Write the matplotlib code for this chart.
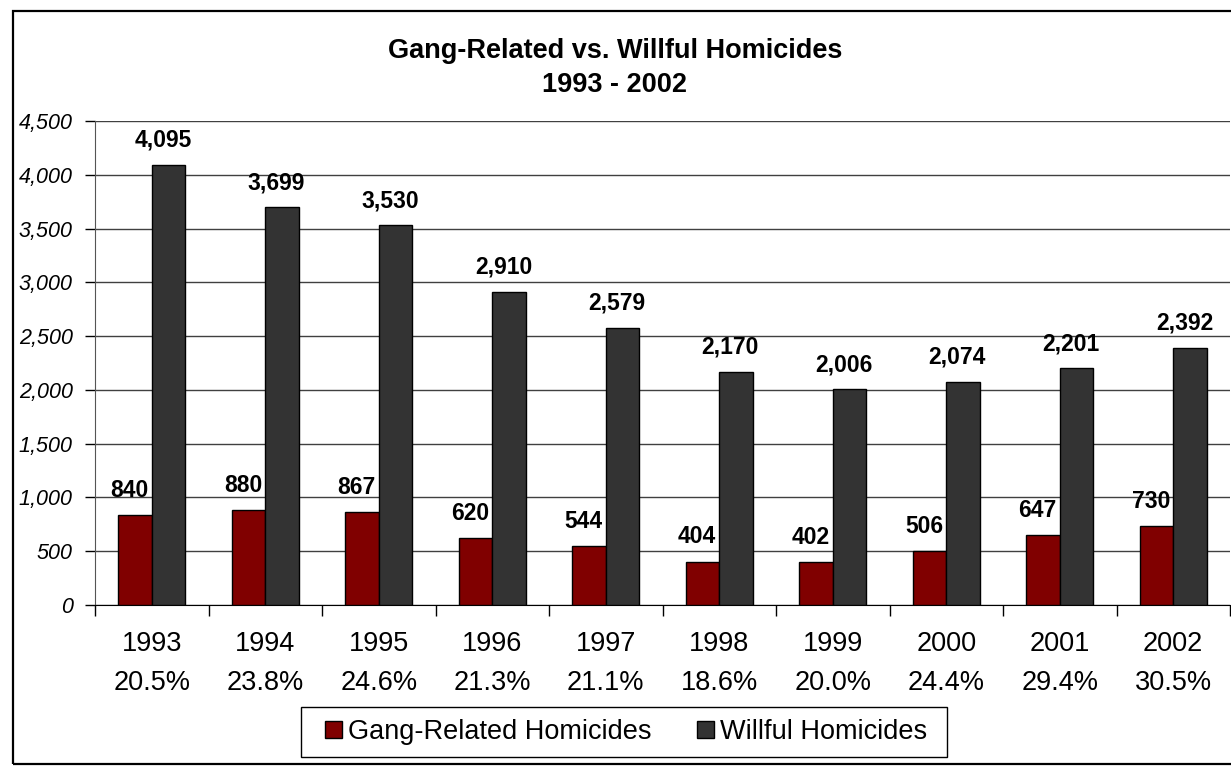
import matplotlib
matplotlib.use("Agg")
import matplotlib.pyplot as plt
from matplotlib.patches import Rectangle
from matplotlib.ticker import FuncFormatter, FixedLocator
import numpy as np

plt.rcParams["font.family"] = ["Liberation Sans", "DejaVu Sans"]

years = ["1993", "1994", "1995", "1996", "1997", "1998", "1999", "2000", "2001", "2002"]
shares = ["20.5%", "23.8%", "24.6%", "21.3%", "21.1%", "18.6%", "20.0%", "24.4%", "29.4%", "30.5%"]
gang = [840, 880, 867, 620, 544, 404, 402, 506, 647, 730]
willful = [4095, 3699, 3530, 2910, 2579, 2170, 2006, 2074, 2201, 2392]

W, H = 1231, 766
fig = plt.figure(figsize=(W / 100, H / 100), dpi=100)
ax = fig.add_axes([95 / W, 1 - 605 / H, (1230 - 95) / W, (605 - 121) / H])

x = np.arange(len(years))
bw = 0.295
red = "#800000"
dark = "#333333"

b1 = ax.bar(x - bw / 2, gang, bw, color=red, edgecolor="black", linewidth=1,
            label="Gang-Related Homicides", zorder=3)
b2 = ax.bar(x + bw / 2, willful, bw, color=dark, edgecolor="black", linewidth=1,
            label="Willful Homicides", zorder=3)

# value labels above bars (Excel puts them a bit left of centre)
for bars, vals in [(b1, gang), (b2, willful)]:
    for rect, v in zip(bars, vals):
        ax.annotate(f"{v:,}", (rect.get_x() + rect.get_width() / 2, rect.get_height()),
                    xytext=(-4, 13), textcoords="offset points",
                    ha="center", va="baseline", fontsize=16.5, fontweight="bold")

ax.set_xlim(-0.5, len(years) - 0.5)
ax.set_ylim(0, 4500)
ax.set_yticks(np.arange(0, 4501, 500))
ax.yaxis.set_major_formatter(FuncFormatter(lambda v, p: f"{int(v):,}"))
ax.grid(axis="y", color="#404040", linewidth=1, zorder=0)

# x: ticks between categories, labels at centres
ax.xaxis.set_major_locator(FixedLocator(np.arange(-0.5, len(years), 1)))
ax.xaxis.set_major_formatter(FuncFormatter(lambda v, p: ""))
ax.set_xticks(x, minor=True)
ax.set_xticklabels([f"{y}\n{s}" for y, s in zip(years, shares)], minor=True,
                   fontsize=19.5, linespacing=1.62)
ax.tick_params(axis="x", which="minor", length=0, pad=19)
ax.tick_params(axis="x", which="major", length=8, width=1, direction="out")
ax.tick_params(axis="y", length=7, width=1, direction="out", pad=9)
for lab in ax.get_yticklabels():
    lab.set_fontsize(15.5)
    lab.set_fontstyle("italic")

for s in ["top", "right"]:
    ax.spines[s].set_visible(False)
ax.spines["left"].set_color("#555555")
ax.spines["bottom"].set_color("black")

fig.text(615 / W, 1 - 68 / H, "Gang-Related vs. Willful Homicides\n1993 - 2002",
         ha="center", va="center", fontsize=19.5, fontweight="bold", linespacing=1.45)

leg = fig.legend(handles=[b1, b2], loc="center", bbox_to_anchor=(626 / W, 1 - 732 / H),
                 ncol=2, fontsize=19.5, frameon=False,
                 handlelength=0.63, handleheight=0.63, handletextpad=0.2,
                 columnspacing=1.7, borderpad=0, borderaxespad=0)

# legend box and outer chart frame
fig.add_artist(Rectangle((301 / W, 1 - 757 / H), (947 - 301) / W, (757 - 707) / H,
                         fill=False, edgecolor="black", linewidth=1,
                         transform=fig.transFigure))
fig.add_artist(Rectangle((13 / W, 1 - 764 / H), 1.0, (764 - 11) / H, fill=False,
                         edgecolor="black", linewidth=1.6, transform=fig.transFigure))

fig.savefig("out.png", dpi=100)
